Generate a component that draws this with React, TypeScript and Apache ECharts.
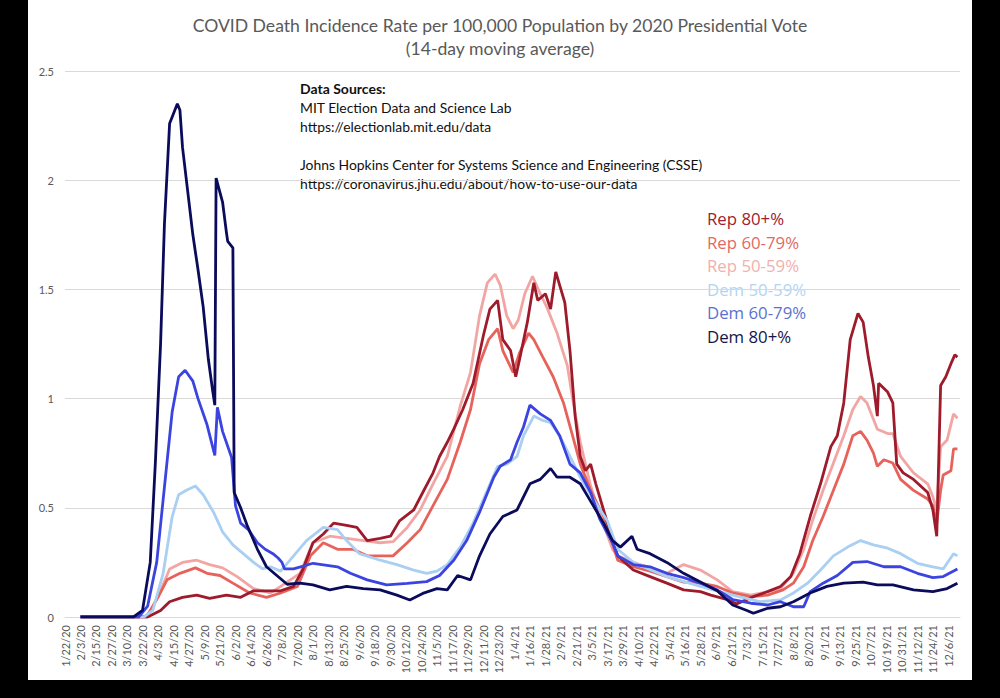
import React, { useEffect, useRef } from "react";
import * as echarts from "echarts";

// Day index 0 = 1/22/20; each tick label is 12 days apart
const tickLabels = [
  "1/22/20", "2/3/20", "2/15/20", "2/27/20", "3/10/20", "3/22/20", "4/3/20", "4/15/20", "4/27/20", "5/9/20",
  "5/21/20", "6/2/20", "6/14/20", "6/26/20", "7/8/20", "7/20/20", "8/1/20", "8/13/20", "8/25/20", "9/6/20",
  "9/18/20", "9/30/20", "10/12/20", "10/24/20", "11/5/20", "11/17/20", "11/29/20", "12/11/20", "12/23/20", "1/4/21",
  "1/16/21", "1/28/21", "2/9/21", "2/21/21", "3/5/21", "3/17/21", "3/29/21", "4/10/21", "4/22/21", "5/4/21",
  "5/16/21", "5/28/21", "6/9/21", "6/21/21", "7/3/21", "7/15/21", "7/27/21", "8/8/21", "8/20/21", "9/1/21",
  "9/13/21", "9/25/21", "10/7/21", "10/19/21", "10/31/21", "11/12/21", "11/24/21", "12/6/21",
];

const seriesNames = ["Rep 80+%", "Rep 60-79%", "Rep 50-59%", "Dem 50-59%", "Dem 60-79%", "Dem 80+%"];
const lineColors = ["#9E1B2B", "#E8625C", "#F2A6A4", "#A9CFF2", "#3B44E0", "#0B0B5C"];
const legendColors = ["#A0202F", "#E06A63", "#F0B0AD", "#B3D4F0", "#5A72D0", "#151547"];

// [day index, deaths per 100k]
const repHigh = [
  [12, 0], [64, 0], [74, 0.03], [81, 0.07], [91, 0.09], [102, 0.1], [112, 0.085], [125, 0.1], [136, 0.09],
  [146, 0.12], [161, 0.12], [167, 0.12], [177, 0.14], [184, 0.215], [192, 0.34], [200, 0.38], [208, 0.43],
  [218, 0.42], [226, 0.41], [234, 0.35], [244, 0.36], [252, 0.37], [259, 0.44], [270, 0.49], [277, 0.57],
  [285, 0.66], [290, 0.735], [296, 0.8], [301, 0.86], [308, 0.95], [316, 1.07], [324, 1.29], [329, 1.41],
  [335, 1.45], [339, 1.27], [345, 1.22], [349, 1.1], [352, 1.18], [358, 1.35], [363, 1.53], [366, 1.45],
  [372, 1.48], [376, 1.41], [380, 1.58], [383, 1.52], [387, 1.44], [391, 1.22], [395, 0.92], [399, 0.735],
  [403, 0.67], [407, 0.7], [411, 0.61], [417, 0.49], [424, 0.35], [428, 0.28], [440, 0.215], [453, 0.185],
  [466, 0.155], [479, 0.124], [492, 0.116], [500, 0.1], [513, 0.08], [520, 0.06], [533, 0.093], [544, 0.116],
  [554, 0.14], [562, 0.185], [569, 0.29], [577, 0.46], [585, 0.61], [593, 0.78], [598, 0.83], [603, 0.98],
  [608, 1.27], [614, 1.39], [618, 1.35], [622, 1.19], [626, 1.06], [629, 0.92], [630, 1.07], [637, 1.03],
  [641, 0.98], [644, 0.7], [649, 0.66], [657, 0.63], [668, 0.57], [672, 0.49], [675, 0.37], [678, 1.06],
  [682, 1.1], [686, 1.16], [689, 1.2], [691, 1.19],
];

const repMid = [
  [12, 0], [63, 0], [72, 0.09], [79, 0.17], [89, 0.2], [101, 0.225], [110, 0.2], [120, 0.19], [130, 0.155],
  [143, 0.11], [156, 0.09], [167, 0.11], [180, 0.14], [190, 0.28], [200, 0.34], [211, 0.31], [223, 0.31],
  [234, 0.28], [244, 0.28], [254, 0.28], [265, 0.34], [275, 0.4], [285, 0.51], [296, 0.63], [306, 0.8],
  [314, 0.95], [321, 1.16], [328, 1.27], [335, 1.32], [339, 1.22], [347, 1.12], [352, 1.21], [359, 1.3],
  [363, 1.27], [370, 1.19], [378, 1.1], [386, 0.98], [393, 0.83], [399, 0.7], [407, 0.58], [417, 0.46],
  [428, 0.26], [440, 0.23], [453, 0.21], [466, 0.185], [479, 0.16], [492, 0.155], [505, 0.14], [517, 0.11],
  [531, 0.093], [544, 0.1], [556, 0.124], [564, 0.155], [572, 0.23], [579, 0.35], [587, 0.46], [595, 0.58],
  [603, 0.7], [610, 0.83], [616, 0.85], [621, 0.81], [626, 0.75], [629, 0.69], [634, 0.72], [641, 0.705],
  [647, 0.63], [657, 0.58], [668, 0.54], [672, 0.51], [675, 0.43], [678, 0.58], [680, 0.65], [686, 0.67],
  [688, 0.77], [691, 0.77],
];

const repLow = [
  [12, 0], [64, 0], [74, 0.12], [81, 0.22], [91, 0.25], [102, 0.26], [112, 0.24], [122, 0.225], [133, 0.186],
  [146, 0.13], [159, 0.11], [167, 0.14], [182, 0.2], [192, 0.34], [205, 0.37], [218, 0.36], [231, 0.35],
  [244, 0.34], [254, 0.345], [265, 0.41], [275, 0.49], [285, 0.61], [296, 0.735], [306, 0.965], [314, 1.12],
  [321, 1.38], [327, 1.53], [333, 1.57], [337, 1.52], [342, 1.38], [347, 1.32], [351, 1.36], [356, 1.48],
  [362, 1.56], [368, 1.48], [373, 1.42], [381, 1.3], [389, 1.15], [393, 1.0], [399, 0.8], [407, 0.6],
  [414, 0.47], [424, 0.31], [428, 0.28], [440, 0.25], [466, 0.2], [479, 0.24], [492, 0.215], [505, 0.17],
  [517, 0.116], [531, 0.1], [544, 0.116], [554, 0.13], [564, 0.2], [572, 0.31], [579, 0.445], [587, 0.58],
  [595, 0.705], [603, 0.83], [610, 0.95], [616, 1.01], [621, 0.98], [629, 0.86], [637, 0.84], [641, 0.84],
  [647, 0.735], [657, 0.66], [668, 0.61], [672, 0.55], [675, 0.49], [678, 0.78], [683, 0.81], [688, 0.93],
  [691, 0.91],
];

const demLow = [
  [12, 0], [61, 0], [68, 0.03], [76, 0.2], [83, 0.46], [88, 0.56], [94, 0.58], [101, 0.6], [107, 0.56], [115, 0.48],
  [122, 0.39], [130, 0.33], [138, 0.29], [146, 0.25], [153, 0.22], [159, 0.23], [167, 0.21], [177, 0.28],
  [187, 0.35], [200, 0.41], [211, 0.4], [218, 0.35], [228, 0.29], [244, 0.26], [257, 0.24], [270, 0.215],
  [280, 0.2], [288, 0.21], [296, 0.24], [306, 0.32], [316, 0.43], [327, 0.58], [335, 0.69], [342, 0.7],
  [350, 0.735], [355, 0.83], [363, 0.92], [370, 0.9], [376, 0.89], [383, 0.83], [391, 0.735], [399, 0.64],
  [409, 0.54], [420, 0.44], [428, 0.31], [440, 0.25], [466, 0.185], [492, 0.14], [517, 0.1], [538, 0.07],
  [554, 0.078], [564, 0.11], [575, 0.155], [585, 0.215], [595, 0.28], [606, 0.32], [616, 0.35], [626, 0.33],
  [637, 0.315], [647, 0.29], [660, 0.246], [672, 0.23], [680, 0.22], [688, 0.29], [691, 0.28],
];

const demMid = [
  [12, 0], [57, 0], [64, 0.05], [71, 0.25], [79, 0.71], [83, 0.94], [88, 1.1], [93, 1.13], [99, 1.08], [103, 1.0],
  [110, 0.88], [116, 0.74], [118, 0.96], [122, 0.85], [129, 0.73], [132, 0.51], [136, 0.43], [142, 0.4],
  [149, 0.34], [155, 0.31], [161, 0.29], [165, 0.27], [168, 0.25], [170, 0.22], [177, 0.22], [192, 0.246],
  [211, 0.23], [221, 0.2], [234, 0.17], [249, 0.147], [265, 0.154], [280, 0.162], [290, 0.19], [301, 0.26],
  [311, 0.35], [321, 0.48], [332, 0.64], [337, 0.69], [345, 0.72], [350, 0.8], [355, 0.87], [360, 0.97],
  [368, 0.93], [376, 0.9], [383, 0.83], [391, 0.7], [399, 0.66], [407, 0.57], [414, 0.45], [424, 0.34],
  [428, 0.28], [440, 0.24], [453, 0.23], [466, 0.2], [479, 0.18], [492, 0.155], [505, 0.124], [517, 0.08],
  [531, 0.063], [544, 0.055], [554, 0.07], [564, 0.047], [572, 0.047], [577, 0.116], [587, 0.155],
  [598, 0.19], [610, 0.25], [621, 0.254], [634, 0.23], [647, 0.23], [660, 0.2], [672, 0.18], [680, 0.185],
  [691, 0.22],
];

const demHigh = [
  [12, 0], [53, 0], [60, 0.03], [66, 0.25], [70, 0.71], [74, 1.25], [77, 1.8], [81, 2.26], [87, 2.35],
  [89, 2.32], [91, 2.15], [95, 1.95], [99, 1.75], [103, 1.59], [107, 1.42], [111, 1.18], [114, 1.05],
  [116, 0.97], [117, 2.01], [122, 1.9], [125, 1.76], [126, 1.72], [130, 1.69], [131, 0.57], [136, 0.5],
  [141, 0.42], [149, 0.31], [156, 0.23], [164, 0.19], [172, 0.15], [182, 0.155], [192, 0.147], [205, 0.124],
  [218, 0.14], [231, 0.13], [244, 0.124], [257, 0.1], [267, 0.078], [277, 0.108], [288, 0.13], [296, 0.124],
  [304, 0.19], [314, 0.17], [321, 0.28], [329, 0.38], [339, 0.46], [350, 0.49], [360, 0.61], [368, 0.63],
  [376, 0.68], [381, 0.64], [391, 0.64], [399, 0.61], [409, 0.51], [417, 0.43], [424, 0.35], [430, 0.32],
  [439, 0.37], [443, 0.31], [453, 0.29], [466, 0.25], [479, 0.2], [492, 0.16], [505, 0.12], [517, 0.055],
  [528, 0.03], [533, 0.017], [544, 0.04], [554, 0.047], [564, 0.07], [577, 0.11], [590, 0.14], [603, 0.155],
  [618, 0.16], [629, 0.147], [641, 0.147], [657, 0.124], [672, 0.116], [683, 0.13], [691, 0.155],
];

const seriesData = [repHigh, repMid, repLow, demLow, demMid, demHigh];
const drawOrder = [2, 1, 0, 3, 4, 5];

const sourceLines = [
  "MIT Election Data and Science Lab",
  "https://electionlab.mit.edu/data",
  "",
  "Johns Hopkins Center for Systems Science and Engineering (CSSE)",
  "https://coronavirus.jhu.edu/about/how-to-use-our-data",
];

export default function App() {
  const ref = useRef<HTMLDivElement>(null);
  useEffect(() => {
    if (!ref.current) return;
    const chart = echarts.init(ref.current, undefined, { renderer: "svg" });
    const font = "Lato, 'Liberation Sans', sans-serif";
    const graphics: any[] = [
      {
        type: "text",
        left: 272,
        top: 81,
        style: { text: "Data Sources:", font: `bold 14px ${font}`, fill: "#111" },
      },
    ];
    sourceLines.forEach((t, i) => {
      if (!t) return;
      graphics.push({
        type: "text",
        left: 272,
        top: 100 + i * 19,
        style: { text: t, font: `13.9px ${font}`, fill: "#111" },
      });
    });
    seriesNames.forEach((n, i) => {
      graphics.push({
        type: "text",
        left: 679,
        top: 210 + i * 23.6,
        style: { text: n, font: `16.8px 'Open Sans', sans-serif`, fill: legendColors[i] },
      });
    });
    chart.setOption({
      animation: false,
      backgroundColor: "#fff",
      title: {
        text: "COVID Death Incidence Rate per 100,000 Population by 2020 Presidential Vote\n(14-day moving average)",
        left: "center",
        top: 9,
        textStyle: { fontFamily: font, fontSize: 17.6, fontWeight: "normal", color: "#595959", lineHeight: 23 },
      },
      grid: { left: 37, right: 12, top: 71, bottom: 63 },
      xAxis: {
        type: "value",
        min: 0,
        max: 693,
        interval: 12,
        axisLine: { lineStyle: { color: "#D9D9D9", width: 1 } },
        axisTick: { show: false },
        splitLine: { show: false },
        axisLabel: {
          rotate: 90,
          margin: 8,
          fontFamily: font,
          fontSize: 11,
          color: "#595959",
          formatter: (v: number) => (v % 12 === 0 && tickLabels[v / 12]) || "",
        },
      },
      yAxis: {
        type: "value",
        min: 0,
        max: 2.5,
        interval: 0.5,
        axisLine: { show: false },
        axisTick: { show: false },
        splitLine: { lineStyle: { color: "#D9D9D9", width: 1 } },
        axisLabel: { fontFamily: font, fontSize: 11, color: "#595959", margin: 11 },
      },
      graphic: graphics,
      series: drawOrder.map((i) => ({
        name: seriesNames[i],
        type: "line",
        data: seriesData[i],
        showSymbol: false,
        symbol: "none",
        lineStyle: { color: lineColors[i], width: 2.8 },
        itemStyle: { color: lineColors[i] },
        z: 2 + drawOrder.indexOf(i),
      })),
    });
    return () => chart.dispose();
  }, []);
  return (
    <div style={{ position: "absolute", left: 0, top: 0, width: 1000, height: 698, background: "#000" }}>
      <div
        ref={ref}
        style={{ position: "absolute", left: 28, top: 0, width: 944, height: 680, background: "#fff" }}
      />
    </div>
  );
}
